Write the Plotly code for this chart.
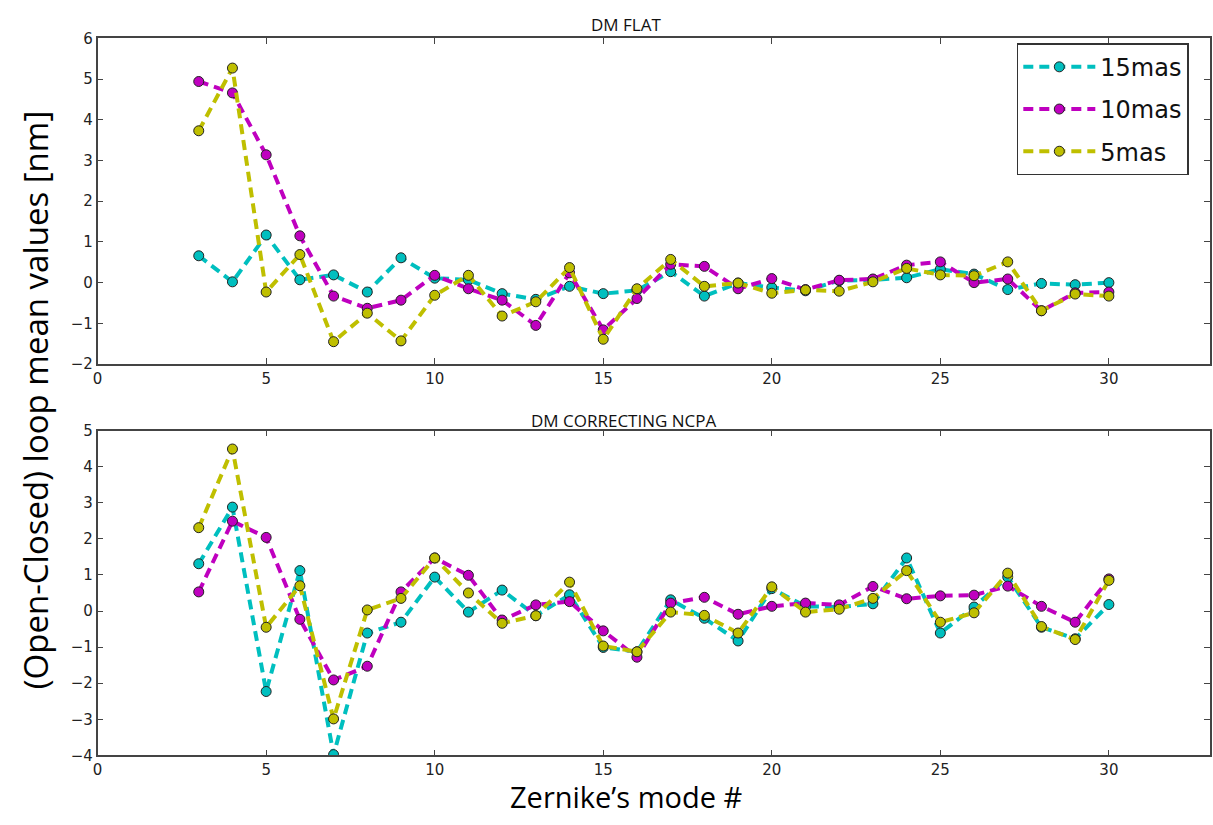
import plotly.graph_objects as go
from plotly.subplots import make_subplots

modes = list(range(3, 31))

# DM FLAT panel
flat_15mas = [0.66, 0.02, 1.17, 0.07, 0.19, -0.23, 0.61, 0.11, 0.07, -0.27, -0.41, -0.09, -0.27, -0.19,
              0.27, -0.33, -0.01, -0.12, -0.20, 0.05, 0.07, 0.12, 0.33, 0.21, -0.17, -0.02, -0.05, 0.00]
flat_10mas = [4.94, 4.66, 3.14, 1.15, -0.33, -0.63, -0.43, 0.18, -0.15, -0.43, -1.05, 0.24, -1.16, -0.39,
              0.45, 0.40, -0.15, 0.10, -0.17, 0.06, 0.09, 0.43, 0.51, 0.00, 0.09, -0.69, -0.25, -0.23]
flat_5mas = [3.73, 5.27, -0.23, 0.69, -1.45, -0.75, -1.43, -0.31, 0.18, -0.82, -0.47, 0.37, -1.39, -0.15,
             0.57, -0.09, -0.01, -0.26, -0.18, -0.21, 0.02, 0.35, 0.19, 0.17, 0.51, -0.69, -0.28, -0.33]

# DM CORRECTING NCPA panel
ncpa_15mas = [1.31, 2.88, -2.23, 1.12, -3.98, -0.61, -0.31, 0.94, -0.03, 0.58, -0.13, 0.45, -1.01, -1.13,
              0.31, -0.20, -0.83, 0.62, 0.13, 0.11, 0.20, 1.47, -0.61, 0.11, 0.94, -0.45, -0.77, 0.18]
ncpa_10mas = [0.53, 2.49, 2.04, -0.23, -1.91, -1.53, 0.53, 1.47, 0.99, -0.25, 0.17, 0.26, -0.55, -1.28,
              0.22, 0.38, -0.09, 0.13, 0.22, 0.17, 0.68, 0.34, 0.42, 0.44, 0.69, 0.13, -0.31, 0.89]
ncpa_5mas = [2.31, 4.49, -0.45, 0.70, -2.99, 0.03, 0.35, 1.47, 0.50, -0.34, -0.13, 0.80, -0.97, -1.13,
             -0.03, -0.12, -0.61, 0.67, -0.03, 0.05, 0.35, 1.12, -0.31, -0.05, 1.05, -0.43, -0.79, 0.85]

series_names = ["15mas", "10mas", "5mas"]
colors = ["#00BFBF", "#BF00BF", "#BFBF00"]
panel_titles = ["DM FLAT", "DM CORRECTING NCPA"]
x_ticks = [0, 5, 10, 15, 20, 25, 30]
top_yticks = [-2, -1, 0, 1, 2, 3, 4, 5, 6]
bot_yticks = [-4, -3, -2, -1, 0, 1, 2, 3, 4, 5]

W, H = 1213, 825
fig = make_subplots(rows=2, cols=1)

panels = [[flat_15mas, flat_10mas, flat_5mas], [ncpa_15mas, ncpa_10mas, ncpa_5mas]]
for r, data in enumerate(panels, start=1):
    for name, col, vals in zip(series_names, colors, data):
        fig.add_trace(go.Scatter(
            x=modes, y=vals, mode="lines+markers", name=name, legendgroup=name,
            line=dict(color=col, width=4, dash="10px,6px"),
            marker=dict(color=col, size=10, line=dict(color="#222", width=1)),
            showlegend=(r == 1),
        ), row=r, col=1)

xdom = [93 / W, 1210 / W]
axis_common = dict(showgrid=False, zeroline=False, showline=True, linecolor="#444", linewidth=1.5,
                   mirror="allticks", ticks="inside", ticklen=6, tickcolor="#444",
                   tickfont=dict(family="DejaVu Sans", size=15, color="#222"))
fig.update_layout(
    xaxis=dict(domain=xdom, range=[0, 33], tickvals=x_ticks, **axis_common),
    xaxis2=dict(domain=xdom, range=[0, 33], tickvals=x_ticks, **axis_common),
    yaxis=dict(domain=[1 - 363 / H, 1 - 30 / H], range=[-2, 6], tickvals=top_yticks, **axis_common),
    yaxis2=dict(domain=[1 - 763 / H, 1 - 431 / H], range=[-4, 5], tickvals=bot_yticks, **axis_common),
)

annotations = [
    dict(text=panel_titles[0], x=624 / W, y=1 - 16 / H, xref="paper", yref="paper", showarrow=False,
         font=dict(family="Open Sans", size=17, color="#111"), xanchor="center", yanchor="middle"),
    dict(text=panel_titles[1], x=622 / W, y=1 - 421 / H, xref="paper", yref="paper", showarrow=False,
         font=dict(family="Open Sans", size=17, color="#111"), xanchor="center", yanchor="middle"),
    dict(text="Zernike’s mode #", x=624 / W, y=1 - 805 / H, xref="paper", yref="paper", showarrow=False,
         font=dict(family="Open Sans", size=29, color="#000"), xanchor="center", yanchor="middle"),
    dict(text="(Open-Closed) loop mean values [nm]", x=30 / W, y=1 - 400 / H, xref="paper", yref="paper",
         showarrow=False, textangle=-90,
         font=dict(family="Open Sans", size=33, color="#000"), xanchor="center", yanchor="middle"),
]

fig.update_layout(
    width=W, height=H, margin=dict(l=0, r=0, t=0, b=0),
    paper_bgcolor="white", plot_bgcolor="white",
    annotations=annotations,
    legend=dict(x=1016 / W, y=1 - 35 / H, xanchor="left", yanchor="top",
                bgcolor="white", bordercolor="#333", borderwidth=1.5,
                font=dict(family="DejaVu Sans", size=24, color="#111"),
                itemwidth=72, traceorder="grouped", tracegroupgap=8),
)

fig.write_html("out.html")
